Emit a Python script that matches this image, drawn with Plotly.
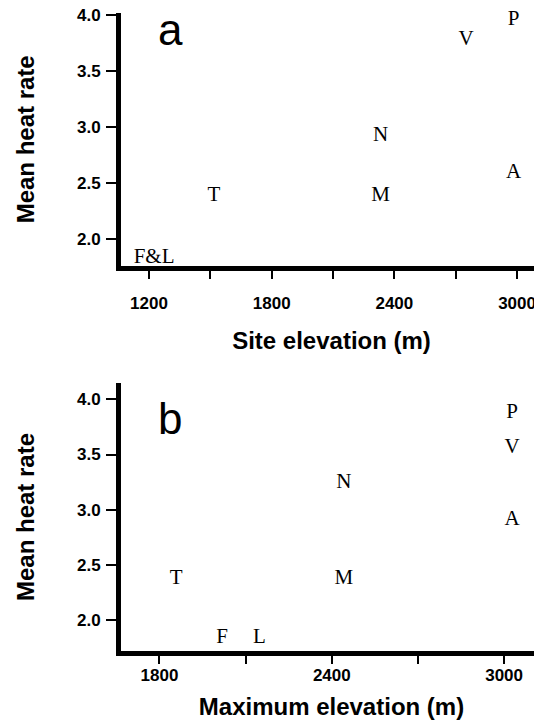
import plotly.graph_objects as go

# Panel a: site elevation
labels_a = ["P", "V", "N", "A", "M", "T", "F&L"]
x_a = [2983, 2751, 2333, 2983, 2333, 1517, 1225]
y_a = [3.96, 3.78, 2.925, 2.595, 2.384, 2.384, 1.835]

# Panel b: maximum elevation
labels_b = ["P", "V", "N", "A", "M", "T", "F", "L"]
x_b = [3028, 3028, 2442, 3028, 2442, 1858, 2018, 2148]
y_b = [3.88, 3.557, 3.24, 2.908, 2.374, 2.374, 1.837, 1.837]

xticks_a = [1200, 1500, 1800, 2100, 2400, 2700, 3000]
xticktext_a = ["1200", "", "1800", "", "2400", "", "3000"]
xticks_b = [1800, 2100, 2400, 2700, 3000]
xticktext_b = ["1800", "", "2400", "", "3000"]
yticks = [2.0, 2.5, 3.0, 3.5, 4.0]
yticktext = ["2.0", "2.5", "3.0", "3.5", "4.0"]

serif = "Liberation Serif, Times New Roman, serif"
sans = "Liberation Sans, Arial, sans-serif"

fig = go.Figure()
fig.add_trace(go.Scatter(x=x_a, y=y_a, text=labels_a, mode="text",
                         textfont=dict(family=serif, size=21, color="black"),
                         xaxis="x", yaxis="y", showlegend=False, cliponaxis=False))
fig.add_trace(go.Scatter(x=x_b, y=y_b, text=labels_b, mode="text",
                         textfont=dict(family=serif, size=21, color="black"),
                         xaxis="x2", yaxis="y2", showlegend=False, cliponaxis=False))

tickfont = dict(family=sans, size=17, color="black", weight="bold")
titlefont = dict(family=sans, size=24, color="black", weight="bold")

common_x = dict(showline=True, linewidth=5, linecolor="black", ticks="outside",
                ticklen=8, tickwidth=2, tickcolor="black", showgrid=False,
                zeroline=False, tickfont=tickfont, automargin=False,
                ticklabeloverflow="allow")
common_y = dict(showline=True, linewidth=5, linecolor="black", ticks="outside",
                ticklen=10, tickwidth=2, tickcolor="black", showgrid=False,
                zeroline=False, tickfont=tickfont, tickvals=yticks,
                ticktext=yticktext, automargin=False, ticklabelstandoff=2,
                ticklabeloverflow="allow")

fig.update_layout(
    width=534, height=712,
    margin=dict(l=113, r=0, t=5, b=69),
    paper_bgcolor="white", plot_bgcolor="white",
    xaxis=dict(domain=[0, 1], range=[1063, 3122], anchor="y",
               tickvals=xticks_a, ticktext=xticktext_a, ticklabelstandoff=10,
               title=dict(text="Site elevation (m)", font=titlefont, standoff=22),
               **common_x),
    yaxis=dict(domain=[0.604, 1], range=[1.763, 4.018], anchor="x",
               title=dict(text="Mean heat rate", font=titlefont, standoff=37),
               **common_y),
    xaxis2=dict(domain=[0, 1], range=[1666, 3132], anchor="y2",
                tickvals=xticks_b, ticktext=xticktext_b, ticklabelstandoff=-3,
                title=dict(text="Maximum elevation (m)", font=titlefont, standoff=19),
                **common_x),
    yaxis2=dict(domain=[0, 0.42], range=[1.719, 4.148], anchor="x2",
                title=dict(text="Mean heat rate", font=titlefont, standoff=37),
                **common_y),
    annotations=[
        dict(text="a", x=1303, y=3.87, xref="x", yref="y", showarrow=False,
             font=dict(family=sans, size=44, color="black")),
        dict(text="b", x=1837, y=3.83, xref="x2", yref="y2", showarrow=False,
             font=dict(family=sans, size=44, color="black")),
    ],
)

fig.write_html("out.html")
